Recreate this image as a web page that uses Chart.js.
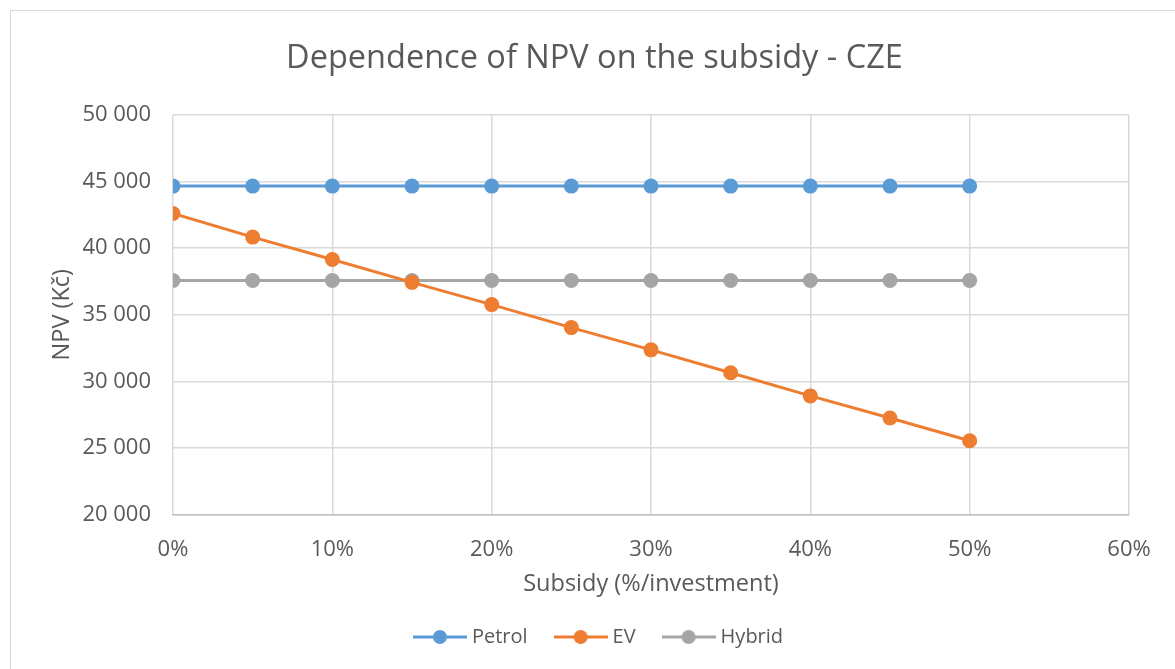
<!DOCTYPE html>
<html>
<head>
<meta charset="utf-8">
<script src="https://cdn.jsdelivr.net/npm/chart.js@4"></script>
<style>
  html, body { margin: 0; padding: 0; background: #fff; }
  #wrap { position: relative; width: 1175px; height: 669px; }
  #frame { position: absolute; left: 10px; top: 10px; width: 1175px; height: 680px; border: 1px solid #d9d9d9; box-sizing: border-box; }
  canvas { position: absolute; left: 0; top: 0; }
</style>
</head>
<body>
<div id="wrap">
  <div id="frame"></div>
  <canvas id="npvChart" width="1175" height="669"></canvas>
</div>
<script>
// data
const subsidy = [0, 0.05, 0.10, 0.15, 0.20, 0.25, 0.30, 0.35, 0.40, 0.45, 0.50];
const petrol = [44660, 44660, 44660, 44660, 44660, 44660, 44660, 44660, 44660, 44660, 44660];
const ev = [42600, 40830, 39150, 37430, 35760, 34030, 32360, 30640, 28900, 27240, 25530];
const hybrid = [37570, 37570, 37570, 37570, 37570, 37570, 37570, 37570, 37570, 37570, 37570];
const yTicks = [20000, 25000, 30000, 35000, 40000, 45000, 50000];
const xTicks = [0, 0.1, 0.2, 0.3, 0.4, 0.5, 0.6];

const textColor = '#595959';
const fontFamily = '"Open Sans", sans-serif';

function toPoints(values) {
    return subsidy.map((s, i) => ({ x: s, y: values[i] }));
}

// legend marker: line with dot in the middle
function legendMarker(color) {
    const c = document.createElement('canvas');
    c.width = 54; c.height = 16;
    const g = c.getContext('2d');
    g.strokeStyle = color;
    g.lineWidth = 3;
    g.beginPath(); g.moveTo(0, 8); g.lineTo(54, 8); g.stroke();
    g.fillStyle = color;
    g.beginPath(); g.arc(27, 8, 7, 0, Math.PI * 2); g.fill();
    return c;
}

const series = [
    { label: 'Petrol', data: petrol, color: '#5b9bd5' },
    { label: 'EV', data: ev, color: '#ed7d31' },
    { label: 'Hybrid', data: hybrid, color: '#a5a5a5' }
];

// title and legend in the original are centred on the whole frame, not the plot
const shiftBlocks = {
    id: 'shiftBlocks',
    afterLayout(chart) {
        if (chart.legend) {
            chart.legend.left += 12;
            chart.legend.right += 12;
        }
        if (chart.titleBlock) {
            chart.titleBlock.left += 6;
            chart.titleBlock.right += 6;
        }
    }
};

const ctx = document.getElementById('npvChart').getContext('2d');
new Chart(ctx, {
    type: 'line',
    plugins: [shiftBlocks],
    data: {
        datasets: series.map(s => ({
            label: s.label,
            data: toPoints(s.data),
            borderColor: s.color,
            backgroundColor: s.color,
            borderWidth: 3,
            pointRadius: 7.5,
            pointHoverRadius: 7.5,
            pointBorderWidth: 0,
            pointStyle: 'circle',
            fill: false,
            tension: 0
        }))
    },
    options: {
        responsive: false,
        animation: false,
        layout: { padding: { left: 48, right: 46, top: 10, bottom: 12 } },
        plugins: {
            title: {
                display: true,
                text: 'Dependence of NPV on the subsidy - CZE',
                color: textColor,
                font: { family: fontFamily, size: 32.5, weight: 'normal' },
                padding: { top: 29, bottom: 37 }
            },
            legend: {
                position: 'bottom',
                labels: {
                    color: textColor,
                    font: { family: fontFamily, size: 20 },
                    boxWidth: 44,
                    boxHeight: 16,
                    pointStyleWidth: 44,
                    padding: 31,
                    usePointStyle: true,
                    generateLabels: chart => series.map((s, i) => ({
                        text: s.label,
                        fontColor: textColor,
                        pointStyle: legendMarker(s.color),
                        datasetIndex: i,
                        lineWidth: 0,
                        strokeStyle: 'transparent',
                        fillStyle: 'transparent'
                    }))
                }
            },
            tooltip: { enabled: false }
        },
        scales: {
            x: {
                type: 'linear',
                min: 0,
                max: 0.6,
                afterBuildTicks: axis => { axis.ticks = xTicks.map(v => ({ value: v })); },
                ticks: {
                    color: textColor,
                    font: { family: fontFamily, size: 22 },
                    padding: 22,
                    callback: v => Math.round(v * 100) + '%'
                },
                grid: { color: '#d9d9d9', lineWidth: 1.5, drawTicks: false },
                border: { color: '#bfbfbf', width: 1.5 },
                title: {
                    display: true,
                    text: 'Subsidy (%/investment)',
                    color: textColor,
                    font: { family: fontFamily, size: 23.5 },
                    padding: { top: -15, bottom: -2 }
                }
            },
            y: {
                min: 20000,
                max: 50000,
                afterBuildTicks: axis => { axis.ticks = yTicks.map(v => ({ value: v })); },
                afterFit: axis => { axis.width = 125; },
                ticks: {
                    color: textColor,
                    font: { family: fontFamily, size: 22 },
                    padding: 22,
                    callback: v => v.toString().replace(/\B(?=(\d{3})+(?!\d))/g, ' ')
                },
                grid: { color: '#d9d9d9', lineWidth: 1.5, drawTicks: false },
                border: { display: false },
                title: {
                    display: true,
                    text: 'NPV (Kč)',
                    color: textColor,
                    font: { family: fontFamily, size: 23.5 },
                    padding: { top: 0, bottom: 0 }
                }
            }
        }
    }
});
</script>
</body>
</html>
